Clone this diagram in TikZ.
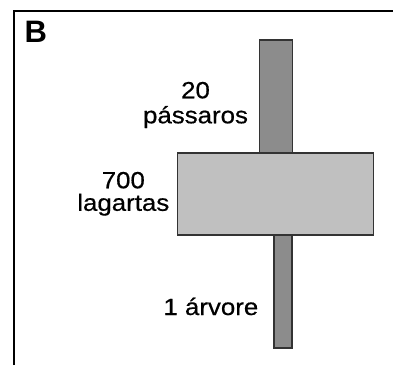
\documentclass[tikz,border=0pt]{standalone}
\usepackage{fontspec}
\setmainfont{Liberation Sans}
\newfontfamily\lblfont[FakeBold=0.5]{Liberation Sans}
\definecolor{bargray}{HTML}{8C8C8C}
\definecolor{boxgray}{HTML}{C0C0C0}
\definecolor{edgegray}{HTML}{333333}
\newcommand{\wide}[1]{\scalebox{1.1}[1]{#1}}
\begin{document}
\begin{tikzpicture}[x=1pt,y=-1pt,
  bar/.style={draw=edgegray,line width=1.3pt,fill=bargray,inner sep=0pt},
  bigbox/.style={draw=edgegray,line width=1.3pt,fill=boxgray,inner sep=0pt},
  lbl/.style={inner sep=0pt,anchor=base,font=\lblfont\fontsize{23.5}{24}\selectfont},
  frame/.style={line width=2.2pt,black}]
\useasboundingbox (0,0) rectangle (393,365);
% frame
\coordinate (ftr) at (393,11);
\coordinate (fbl) at (14,365);
\draw[frame] (fbl) |- (ftr);
\node[anchor=base west,inner sep=0pt,font=\fontsize{31}{31}\bfseries\selectfont] (B) at (24.5,42) {B};
% bars
\node[bar,minimum width=33pt,minimum height=113pt] (top) at (276,96.5) {};
\node[bar,minimum width=18pt,minimum height=113pt] (bot) at (283,291.5) {};
\node[bigbox,minimum width=195.5pt,minimum height=82pt] (mid) at (275.5,194) {};
% labels
\node[lbl] (t20) at (195.5,98.3) {\wide{20}};
\node[lbl] (tpas) at (195.5,123.3) {\wide{pássaros}};
\node[lbl] (t700) at (123.3,188.3) {\wide{700}};
\node[lbl] (tlag) at (123.3,210.8) {\wide{lagartas}};
\node[lbl,anchor=base east] (t1) at (258.5,315) {\wide{1 árvore}};
\end{tikzpicture}
\end{document}
